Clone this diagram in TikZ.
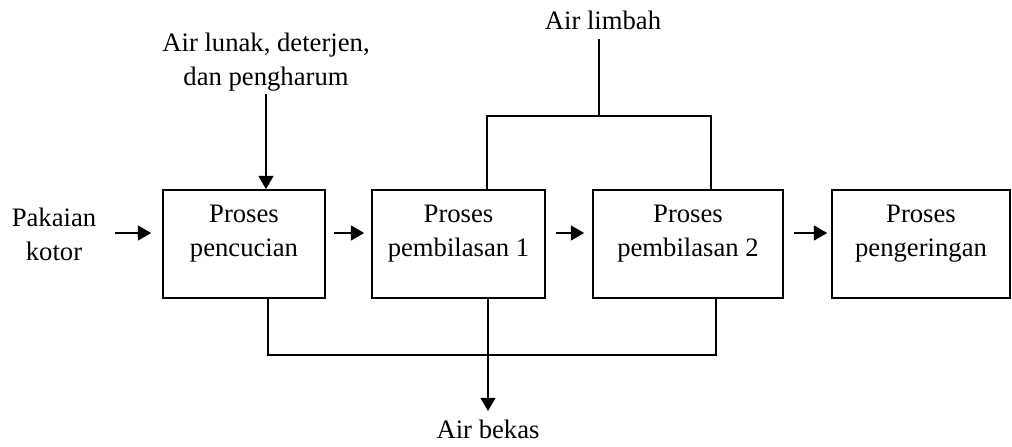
\documentclass[tikz,border=0pt]{standalone}
\usepackage{fontspec}
\setmainfont{Liberation Serif}
\usetikzlibrary{arrows.meta,calc}

\tikzset{every picture/.style={line width=0.75pt}}

\begin{document}
\begin{tikzpicture}[x=0.75pt,y=0.75pt,yscale=-1,xscale=1,
        font=\fontsize{20}{25.5}\selectfont,
        box/.style={draw, line width=1.2pt, minimum height=81pt, inner sep=0pt},
        lbl/.style={align=center, inner sep=0pt},
        flow/.style={line width=1.9pt, -{Triangle[length=10pt,width=11pt]}},
        pipe/.style={line width=1.2pt}]
        %set diagram size to 1012 x 446
        \path[use as bounding box] (0,0) rectangle (1012,446);

        %Shapes: process boxes
        \node[box, minimum width=121.5pt] (cuci) at (244,244) {};
        \node[box, minimum width=129.75pt] (bilas1) at (458.5,244) {};
        \node[box, minimum width=142.5pt] (bilas2) at (688,244) {};
        \node[box, minimum width=133.5pt] (kering) at (921,244) {};

        % Text Nodes
        \node[lbl] (tcuci) at (244,234) {Proses\\pencucian};
        \node[lbl] (tbilas1) at (458.5,234) {Proses\\pembilasan 1};
        \node[lbl] (tbilas2) at (688,234) {Proses\\pembilasan 2};
        \node[lbl] (tkering) at (921,234) {Proses\\pengeringan};
        \node[lbl] (kotor) at (54,234) {Pakaian\\kotor};
        \node[lbl] (bahan) at (266,62) {Air lunak, deterjen,\\dan pengharum};
        \node[lbl] (limbah) at (603,20) {Air limbah};
        \node[lbl, inner ysep=6pt] (bekas) at (488,429) {Air bekas};

        %Joints
        \coordinate (limbahjoint) at (599,116);
        \coordinate (atas1) at (487,116);
        \coordinate (atas2) at (711,116);
        \coordinate (bawah1) at (268,355);
        \coordinate (bawah2) at (488,355);
        \coordinate (bawah3) at (716,355);

        %Straight Lines: main flow
        \draw[flow] ($(kotor.east)+(18,-1)$) -- ($(cuci.west)+(-11,-11)$);
        \foreach \a/\b/\s/\e in {cuci/bilas1/8/7, bilas1/bilas2/10/8, bilas2/kering/10/4}
            \draw[flow] ($(\a.east)+(\s,-11)$) -- ($(\b.west)+(-\e,-11)$);

        %Straight Lines: inputs and outputs
        \draw[flow] ($(bahan.south)+(0,2)$) -- (bahan.south |- cuci.north);
        \draw[pipe] ($(limbah.south -| limbahjoint)+(0,9)$) -- (limbahjoint);
        \draw[pipe] (atas1 |- bilas1.north) -- (atas1) -- (atas2) -- (atas2 |- bilas2.north);
        \draw[pipe] (bawah1 |- cuci.south) -- (bawah1) -- (bawah3) -- (bawah3 |- bilas2.south);
        \draw[flow] (bawah2 |- bilas1.south) -- (bekas.north);
\end{tikzpicture}
\end{document}
